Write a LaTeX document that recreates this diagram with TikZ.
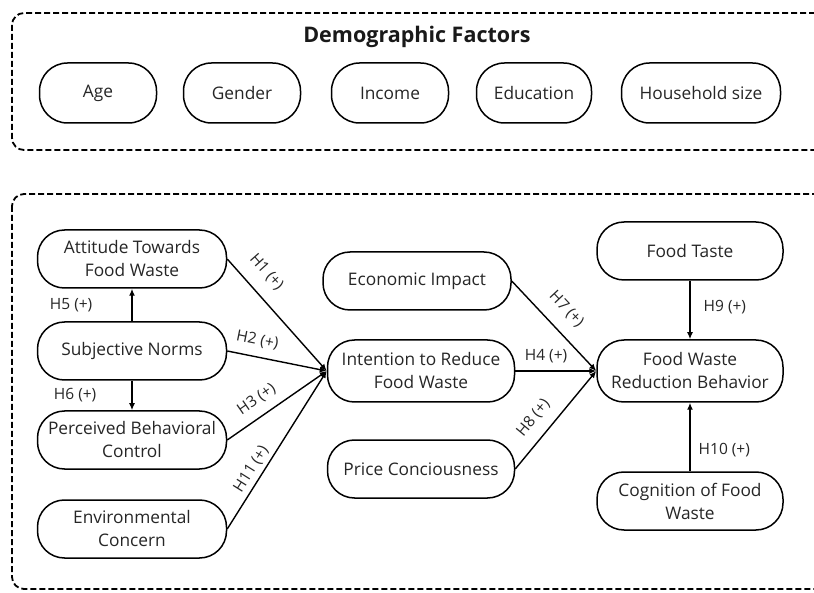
\documentclass[tikz,border=0pt]{standalone}
\usepackage{fontspec}
\setmainfont{Open Sans}
\usetikzlibrary{arrows.meta}
\begin{document}
\begin{tikzpicture}[x=1pt,y=-1pt,
  box/.style={draw=black, line width=1.5pt, rounded corners=27pt, minimum height=58pt, minimum width=188pt, align=center, font=\fontsize{17.3}{23}\selectfont, text=black!85, inner sep=1pt},
  demo/.style={box, minimum width=117pt, minimum height=60pt, rounded corners=28pt},
  conn/.style={line width=1.4pt, -{Latex[length=7pt,width=6pt]}},
  lab/.style={font=\fontsize{15.5}{18}\selectfont, text=black!85, inner sep=1pt},
  frame/.style={line width=1.8pt, dash pattern=on 6pt off 3pt, rounded corners=12pt}
]
\useasboundingbox (0,0) rectangle (814,593);
\clip (0,0) rectangle (814,593);
\fill[white] (0,0) rectangle (814,593);

% Demographic frame
\draw[frame] (12,13) rectangle (826,150);
\node[font=\bfseries\fontsize{21.5}{24}\selectfont, text=black!90] (title) at (417,37) {Demographic Factors};
\node[demo] (age) at (98,93) {Age};
\node[demo] (gender) at (242,93) {Gender};
\node[demo] (income) at (390,93) {Income};
\node[demo, minimum width=115pt] (edu) at (534,93) {Education};
\node[demo, minimum width=159pt] (house) at (701,93) {Household size};

% Model frame
\draw[frame] (12,194) rectangle (826,589);

\node[box, minimum width=189pt] (att) at (132,259) {Attitude Towards\\Food Waste};
\node[box, minimum width=189pt] (sn) at (132,351) {Subjective Norms};
\node[box, minimum width=189pt] (pbc) at (132,440) {Perceived Behavioral\\Control};
\node[box, minimum width=189pt] (env) at (132,529) {Environmental\\Concern};

\node[box] (econ) at (417,281) {Economic Impact};
\node[box, minimum width=187pt, minimum height=62pt] (int) at (421,371) {Intention to Reduce\\Food Waste};
\node[box, minimum width=187pt] (price) at (421,469) {Price Conciousness};

\node[box, minimum width=186pt] (taste) at (690,251) {Food Taste};
\node[box, minimum width=186pt, minimum height=62pt] (fwrb) at (690,371) {Food Waste\\Reduction Behavior};
\node[box, minimum width=186pt] (cog) at (690,501) {Cognition of Food\\Waste};

% connectors
\draw[conn] (sn.north) -- node[lab, pos=0.5, left=38pt] {H5 (+)} (att.south);
\draw[conn] (sn.south) -- node[lab, pos=0.5, left=34pt] {H6 (+)} (pbc.north);

\draw[conn] (att.east) -- node[lab, sloped, pos=0.24, above=12pt] {H1 (+)} (int.west);
\draw[conn] (sn.east) -- node[lab, sloped, pos=0.27, above=8pt] {H2 (+)} (int.west);
\draw[conn] (pbc.east) -- node[lab, sloped, pos=0.39, above=8pt] {H3 (+)} (int.west);
\draw[conn] (env.east) -- node[lab, sloped, pos=0.34, above=3pt] {H11 (+)} (int.west);

\draw[conn] (econ.east) -- node[lab, sloped, pos=0.47, above=12pt] {H7 (+)} (fwrb.west);
\draw[conn] (int.east) -- node[lab, pos=0.38, above=6pt] {H4 (+)} (fwrb.west);
\draw[conn] (price.east) -- node[lab, sloped, pos=0.4, above=10pt] {H8 (+)} (fwrb.west);

\draw[conn] (taste.south) -- node[lab, pos=0.45, right=12pt] {H9 (+)} (fwrb.north);
\draw[conn] (cog.north) -- node[lab, pos=0.31, right=7pt] {H10 (+)} (fwrb.south);
\end{tikzpicture}
\end{document}
